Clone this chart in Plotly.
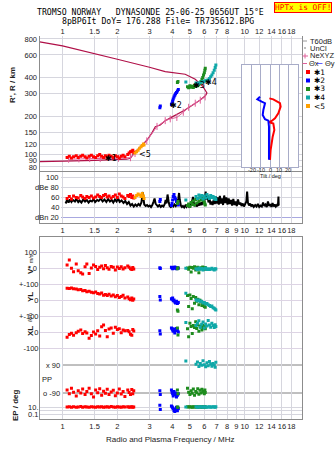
import numpy as np
import plotly.graph_objects as go

W, H = 335, 451
def px(x): return x / W
def py(y): return 1 - y / H

# ---------------- data ----------------
freq_ticks_top = [1, 1.5, 2, 3, 4, 5, 6, 7, 8, 10, 12, 14, 16, 18]
freq_ticks_bottom = [1, 1.5, 2, 3, 4, 5, 6, 7, 8, 9, 10, 12, 14, 16, 18]
height_ticks = [80, 90, 100, 120, 150, 200, 300, 400, 600, 800]
db_ticks = [100, 80, 60, 40, 20]
db_labels = ["100", "dBe 80", "60", "40", "dBn 20"]
tilt_ticks = [-20, -10, 0, 10, 20]

# real-height profile: bottomside up to the peak, then topside back down in frequency
prof_f = [0.75, 1.0, 1.02, 1.5, 2.0, 2.25, 2.36, 2.46, 2.67, 2.91, 3.09, 3.23, 3.44, 3.66,
          4.0, 4.7, 5.7, 6.1, 6.2, 5.9, 5.35, 4.71, 3.66, 3.0, 2.0, 1.0, 0.75]
prof_h = [88, 88, 89, 90, 91, 92, 93.5, 102, 115, 130, 147, 165, 170, 184,
          197, 223, 267, 290, 303, 339, 387, 424, 445, 481, 555, 705, 760]

nexyz_f = [1.08, 1.23, 1.41, 1.61, 2.03, 2.36, 2.5, 2.9, 3.3, 3.66, 3.9, 4.24, 4.6, 4.92, 5.35, 5.7, 6.06]
nexyz_h = [92, 92.5, 93, 93, 93.5, 94.5, 102, 128, 166, 184, 190, 195, 214, 234, 252, 266, 282]

red_f = [1.06, 1.09, 1.12, 1.15, 1.19, 1.22, 1.26, 1.29, 1.33, 1.36, 1.40, 1.44, 1.48, 1.52, 1.56,
         1.60, 1.64, 1.68, 1.72, 1.76, 1.80, 1.85, 1.90, 1.95, 2.00, 2.05, 2.10, 2.15, 2.20, 2.28,
         2.32, 2.36, 2.40, 2.43, 2.46]
red_h = [95, 97, 94, 96, 98, 95, 97, 99, 96, 94, 97, 99, 96, 95, 98, 100, 97, 95, 98, 96, 99, 97,
         95, 98, 96, 94, 97, 99, 96, 100, 103, 105, 106, 108, 104]
red_db = [58, 62, 57, 63, 60, 59, 64, 61, 58, 62, 60, 63, 59, 61, 65, 62, 60, 64, 66, 61, 63, 59,
          62, 65, 60, 67, 63, 61, 58, 64, 62, 66, 60, 63, 59]
red_vs = [19, 50, -2, -23, 25, -17, -29, -38, 8, 25, -35, 0, 19, 10, -10, 5, 12, -5, 15, 2, -8, 10,
          4, -12, 6, -3, 8, -6, 2, 12, 5, -4, -10, 3, -6]
red_yl = [74, 72, 75, 70, 68, 64, 66, 58, 60, 52, 55, 48, 45, 50, 40, 38, 44, 30, 35, 28, 36, 25,
          32, 20, 28, 15, 22, 30, 12, 18, 8, 2, 12, -2, 6]
red_xl = [-33, -15, -8, -20, -4, 5, 12, -10, 2, -6, -39, -22, 0, -12, 8, -25, 33, 44, 10, -30, 19,
          25, -8, 30, 15, 20, -5, 12, 8, 10, 2, -14, -20, 15, 6]
red_pp = [-70, -95, -60, -85, -110, -75, -90, -65, -100, -80, -60, -95, -115, -70, -88, -62, -105,
          -78, -92, -66, -100, -84, -72, -108, -90, -64, -96, -80, -112, -70, -86, -100, -68, -94, -76]
red_ep = [10, 12, 9, 11, 8, 10, 13, 9, 11, 10, 8, 12, 10, 9, 11, 10, 12, 8, 10, 11, 9, 13, 10, 8,
          11, 10, 9, 12, 10, 11, 8, 10, 12, 9, 10]

orange_f = [2.50, 2.55, 2.60, 2.65, 2.70, 2.74, 2.78, 2.80]
orange_h = [103, 105, 108, 112, 115, 118, 121, 119]
orange_db = [60, 64, 67, 65, 62, 68, 63, 58]

blue_f = [3.42, 3.44, 3.96, 3.99, 4.02, 4.05, 4.09, 4.13, 4.17, 4.22, 4.27, 4.32]
blue_h = [232, 240, 246, 252, 262, 272, 282, 290, 298, 306, 314, 322]
blue_db = [52, 56, 44, 48, 55, 62, 66, 60, 57, 52, 48, 45]
blue_vs = [2, -3, 5, 0, -4, 3, -2, 6, 1, -5, 2, -1]
blue_yl = [22, 0, 8, 4, 12, -5, 0, -12, -18, -8, -22, -15]
blue_xl = [8, -12, 25, 20, 12, 5, 18, -6, 10, 22, 15, 0]
blue_pp = [-75, -100, -70, -85, -95, -110, -80, -100, -90, -115, -105, -95]
blue_ep = [30, 2, 20, 12, 6, 3, 1, 0.5, 2, 8, 0.8, 4]

green_f = [4.27, 4.30, 4.85, 4.92, 5.00, 5.08, 5.15, 5.22, 5.30, 5.38, 5.45, 5.52, 5.60, 5.68,
           5.75, 5.82, 5.88, 5.94, 6.00, 6.04, 6.07]
green_h = [365, 372, 338, 332, 345, 336, 342, 334, 346, 340, 350, 344, 352, 360, 372, 385, 400,
           418, 436, 455, 472]
green_db = [48, 52, 44, 47, 42, 50, 46, 53, 45, 56, 49, 58, 52, 60, 55, 62, 57, 54, 50, 47, 45]
green_vs = [-5, 2, 0, -8, 5, -25, 3, -2, 8, -12, 0, 4, -30, -6, 2, -3, 6, -4, 0, -8, 3]
green_yl = [-62, -70, 28, -40, 32, 10, -55, 22, -20, 15, -8, 5, -30, -2, -12, -35, -18, -28, -40, -22, -45]
green_xl = [25, -19, 20, -30, 55, 35, -10, 40, 28, 64, 22, 45, 5, 38, 30, 12, 42, 28, 35, 25, 20]
green_pp = [-70, -95, -60, -85, -100, -75, -92, -65, -105, -80, -88, -62, -98, -72, -90, -66, -84,
            -78, -95, -70, -86]
green_ep = [10, 9, 11, 10, 12, 10, 9, 11, 10, 10, 12, 9, 10, 11, 10, 9, 10, 12, 10, 11, 10]

cyan_f = [4.75, 5.40, 5.50, 5.60, 5.70, 5.80, 5.90, 6.00, 6.10, 6.20, 6.30, 6.40, 6.50, 6.60,
          6.70, 6.80, 6.88, 6.94]
cyan_h = [368, 362, 358, 362, 365, 368, 371, 374, 377, 380, 383, 392, 405, 419, 436, 455, 478, 500]
cyan_db = [55, 62, 58, 65, 60, 64, 57, 63, 59, 66, 61, 58, 64, 60, 62, 57, 60, 56]
cyan_vs = [-2, -5, -10, 0, -8, -3, -12, -5, 0, -9, -4, -10, -6, -1, -8, -12, -4, -7]
cyan_yl = [42, 2, -5, 0, -10, -8, -18, -15, -25, -22, -30, -35, -40, -38, -48, -52, -58, -62]
cyan_xl = [60, 40, 55, 70, 30, 48, 62, 25, 50, 38, 72, 44, 30, 55, 40, 28, 45, 35]
cyan_pp = [116, 95, 110, 80, 100, 88, 118, 92, 78, 105, 85, 112, 96, 82, 100, 90, 76, 108]
cyan_ep = [10, 11, 9, 10, 12, 10, 9, 11, 10, 8, 10, 11, 9, 10, 12, 10, 9, 11]

noise_f = [1.04, 1.06, 1.08, 1.10, 1.12, 1.14, 1.17, 1.19, 1.22, 1.24, 1.27, 1.30, 1.33, 1.36,
           1.39, 1.42, 1.45, 1.48, 1.51, 1.55, 1.58, 1.62, 1.66, 1.70, 1.74, 1.78, 1.82, 1.86,
           1.90, 1.94, 1.98, 2.02, 2.06, 2.11, 2.16, 2.21, 2.26, 2.31, 2.36, 2.41, 2.46, 2.51,
           2.56, 2.61, 2.66, 2.71, 2.74, 2.76, 2.78, 2.81, 2.86, 2.91, 2.96, 3.01, 3.06, 3.11,
           3.16, 3.20, 3.24, 3.29, 3.34, 3.40, 3.46, 3.52, 3.58, 3.64, 3.68, 3.72, 3.77, 3.82,
           3.87, 3.93, 3.99, 4.05, 4.11, 4.18, 4.25, 4.32, 4.36, 4.40, 4.46, 4.52, 4.58, 4.65,
           4.72, 4.79, 4.86, 4.93, 5.00, 5.07, 5.14, 5.20, 5.26, 5.33, 5.40, 5.48, 5.56, 5.64,
           5.72, 5.80, 5.88, 5.96, 6.04, 6.10, 6.16, 6.24, 6.32, 6.40, 6.48, 6.57, 6.66, 6.75,
           6.84, 6.93, 7.02, 7.11, 7.20, 7.30, 7.40, 7.50, 7.60, 7.71, 7.82, 7.93, 8.04, 8.16,
           8.28, 8.40, 8.52, 8.65, 8.78, 8.91, 9.04, 9.18, 9.32, 9.46, 9.60, 9.75, 9.90, 10.05,
           10.2, 10.3, 10.4, 10.55, 10.7, 10.85, 11.0, 11.2, 11.4, 11.6, 11.8, 12.0, 12.2, 12.4,
           12.6, 12.8, 13.0, 13.2, 13.4, 13.6, 13.8, 14.0, 14.2, 14.4, 14.6, 14.8, 15.0, 15.2,
           15.3, 15.35]
noise_db = [48, 55, 50, 56, 51, 55, 52, 57, 51, 54, 50, 56, 52, 55, 50, 54, 52, 57, 51, 55, 53,
            58, 52, 56, 51, 57, 52, 55, 50, 56, 52, 58, 51, 54, 49, 53, 47, 51, 44, 47, 42, 46,
            43, 47, 44, 50, 62, 71, 58, 46, 43, 45, 42, 44, 41, 45, 52, 58, 48, 44, 42, 45, 41,
            44, 42, 47, 55, 48, 66, 52, 43, 41, 44, 42, 46, 43, 47, 58, 69, 55, 44, 41, 43, 40,
            44, 41, 45, 42, 47, 43, 50, 61, 48, 43, 46, 42, 48, 44, 50, 45, 52, 47, 58, 72, 56,
            66, 50, 60, 46, 52, 45, 55, 47, 62, 48, 60, 46, 63, 48, 58, 45, 64, 49, 60, 46, 58,
            47, 55, 44, 57, 45, 52, 43, 56, 46, 50, 43, 48, 42, 46, 52, 72, 50, 44, 48, 42, 46,
            41, 45, 42, 47, 41, 44, 42, 50, 43, 46, 41, 52, 43, 47, 41, 49, 42, 46, 42, 45, 43,
            62, 44]

tiltx_h = [275, 270, 252, 237, 210, 192, 183, 179, 175, 156, 138, 122, 109, 91]
tiltx = [-0.7, 3.6, 10.8, 11.5, 9.0, 5.4, 1.8, -0.7, 3.6, 4.7, 2.9, 1.8, 0.7, 0]
tilty_h = [283, 270, 259, 252, 223, 204, 189, 184, 165, 130, 109, 91]
tilty = [-10.8, -13.7, -9.0, -5.4, -7.2, -7.9, -5.4, -1.8, -1.1, -1.1, -0.7, -1.1]

echo_labels = [("\u27311", 1.85, 94), ("\u27312", 4.18, 242), ("\u27313", 5.6, 347),
               ("\u27314", 6.5, 366), ("<5", 2.85, 100)]

# ---------------- styles ----------------
RED, BLUE, GREEN, CYAN, ORANGE = "#ff0000", "#0000ff", "#1e8c1e", "#10a8a8", "#ffa000"
CRIMSON, PINK = "#b01048", "#e0609a"
GRID = "#d6d6de"
GRID2 = "#ddd4e4"
FRAME = "#8c8c8c"
SANS = "Liberation Sans, Arial, sans-serif"
TF = dict(family=SANS, size=7.5, color="#222")

XR = [np.log10(0.748), np.log10(20.6)]
XD = [px(39.5), px(302)]

fig = go.Figure()

def mk(x, y, color, xa, ya, size=3):
    fig.add_trace(go.Scatter(x=x, y=y, mode="markers", xaxis=xa, yaxis=ya, showlegend=False,
                             marker=dict(symbol="square", size=size, color=color, line=dict(width=0))))

# top panel
fig.add_trace(go.Scatter(x=prof_f, y=prof_h, mode="lines", line=dict(color=CRIMSON, width=1.2),
                         xaxis="x", yaxis="y", showlegend=False))
fig.add_trace(go.Scatter(x=nexyz_f, y=nexyz_h, mode="lines+markers", line=dict(color=PINK, width=1),
                         marker=dict(symbol="line-ns-open", size=5, color=PINK, line=dict(width=1, color=PINK)),
                         xaxis="x", yaxis="y", showlegend=False))
for f, h, c in [(red_f, red_h, RED), (orange_f, orange_h, ORANGE), (blue_f, blue_h, BLUE),
                (green_f, green_h, GREEN), (cyan_f, cyan_h, CYAN)]:
    mk(f, h, c, "x", "y")

# dB panel
fig.add_trace(go.Scatter(x=noise_f, y=noise_db, mode="lines", line=dict(color="#000", width=2),
                         xaxis="x2", yaxis="y2", showlegend=False))
for f, d, c in [(red_f, red_db, RED), (orange_f, orange_db, ORANGE), (blue_f, blue_db, BLUE),
                (green_f, green_db, GREEN), (cyan_f, cyan_db, CYAN)]:
    mk(f, d, c, "x2", "y2")

# lower panel
for f, v, yl, xl, pp, ep, c in [
        (red_f, red_vs, red_yl, red_xl, red_pp, red_ep, RED),
        (blue_f, blue_vs, blue_yl, blue_xl, blue_pp, blue_ep, BLUE),
        (green_f, green_vs, green_yl, green_xl, green_pp, green_ep, GREEN),
        (cyan_f, cyan_vs, cyan_yl, cyan_xl, cyan_pp, cyan_ep, CYAN)]:
    mk(f, v, c, "x3", "y3")
    mk(f, yl, c, "x3", "y4")
    mk(f, xl, c, "x3", "y5")
    mk(f, pp, c, "x3", "y6")
    mk(f, ep, c, "x3", "y7")

# inset tilt
fig.add_trace(go.Scatter(x=tiltx, y=tiltx_h, mode="lines", line=dict(color=RED, width=2),
                         xaxis="x4", yaxis="y8", showlegend=False))
fig.add_trace(go.Scatter(x=tilty, y=tilty_h, mode="lines", line=dict(color=BLUE, width=2),
                         xaxis="x4", yaxis="y8", showlegend=False))

ax_common = dict(zeroline=False, ticks="", tickfont=TF)
xcommon = dict(zeroline=False, ticks="", tickfont=TF, tickangle=0)
fig.update_layout(
    width=W, height=H, autosize=False, margin=dict(l=0, r=0, t=0, b=0),
    paper_bgcolor="white", plot_bgcolor="white", showlegend=False,
    xaxis=dict(type="log", range=XR, domain=XD, anchor="y", side="top",
               tickvals=freq_ticks_top, ticktext=[str(v) for v in freq_ticks_top],
               showgrid=True, gridcolor=GRID, showline=False, **xcommon),
    yaxis=dict(type="log", range=[1.864, 2.926], domain=[py(172), py(36)], anchor="x",
               tickvals=height_ticks, ticktext=[str(v) for v in height_ticks],
               gridcolor=GRID, showline=True, mirror=True, linecolor=FRAME, **ax_common),
    xaxis2=dict(type="log", range=XR, domain=XD, anchor="y2",
                tickvals=freq_ticks_bottom, ticktext=[str(v) for v in freq_ticks_bottom],
                gridcolor=GRID, showline=True, mirror=True, linecolor=FRAME, **xcommon),
    yaxis2=dict(range=[9, 111], domain=[py(223), py(172)], anchor="x2", showticklabels=False,
                showgrid=False, showline=True, mirror=True, linecolor=FRAME, zeroline=False),
    xaxis3=dict(type="log", range=XR, domain=XD, anchor="y3",
                tickvals=freq_ticks_bottom, ticktext=[str(v) for v in freq_ticks_bottom],
                gridcolor=GRID, showline=True, mirror=True, linecolor=FRAME, **xcommon),
    yaxis3=dict(range=[-943.75, 193.75], domain=[py(419), py(237)], anchor="x3",
                tickvals=[100, 0], ticktext=["100", "0"], gridcolor=GRID2,
                showline=True, mirror=True, linecolor=FRAME, **ax_common),
    yaxis4=dict(range=[-743.75, 393.75], overlaying="y3", anchor="x3", side="left",
                tickvals=[100, 0], ticktext=["+-100", "0"], gridcolor=GRID2, **ax_common),
    yaxis5=dict(range=[-543.75, 593.75], overlaying="y3", anchor="x3", side="left",
                tickvals=[100, 0, -100], ticktext=["+-100", "0", "-100"], gridcolor=GRID2, **ax_common),
    yaxis6=dict(range=[-257.1, 912.9], overlaying="y3", anchor="x3", side="left",
                showticklabels=False, showgrid=False, zeroline=False),
    yaxis7=dict(type="log", range=[-2.4286, 49.571], overlaying="y3", anchor="x3", side="left",
                tickvals=[10, 1, 0.1], ticktext=["10.", "", "0.1"], gridcolor=GRID, **ax_common),
    xaxis4=dict(range=[-30.3, 30.3], domain=[px(242), px(298)], anchor="y8",
                tickvals=tilt_ticks, showticklabels=False,
                gridcolor="#a8acc8", showline=True, mirror=True, linecolor="#a8acc8",
                zeroline=False, ticks=""),
    yaxis8=dict(type="log", range=[1.903, 2.700], domain=[py(167), py(65)], anchor="x4",
                showticklabels=False, showgrid=False, showline=True, mirror=True,
                linecolor="#a8acc8", zeroline=False),
)

shapes = []
# white background of the tilt inset (covers the main grid)
shapes.append(dict(type="rect", xref="x4 domain", yref="y8 domain", x0=0, x1=1, y0=0, y1=1,
                   fillcolor="white", line=dict(width=0), layer="below"))
# dB panel grid lines (start after the inside labels)
for v in db_ticks:
    shapes.append(dict(type="line", xref="paper", yref="y2", x0=px(61), x1=px(302), y0=v, y1=v,
                       line=dict(color="#a8a8e0" if v == 20 else GRID, width=1), layer="below"))
# PP lines
for v in [90, -90]:
    shapes.append(dict(type="line", xref="paper", yref="y6", x0=px(63), x1=px(302), y0=v, y1=v,
                       line=dict(color="#808080", width=1), layer="below"))

ann = []
def A(text, x, y, xref="paper", yref="paper", size=7.5, xanchor="center", color="#222",
      family=SANS, angle=0, **kw):
    ann.append(dict(text=text, x=x, y=y, xref=xref, yref=yref, showarrow=False, xanchor=xanchor,
                    yanchor="middle", textangle=angle, font=dict(family=family, size=size, color=color), **kw))

for v, t in zip(db_ticks, db_labels):
    A(t, px(60.5), v, yref="y2", xanchor="right")
A("x\u00a090", px(62), 90, yref="y6", xanchor="right")
A("o\u00a0-90", px(62), -90, yref="y6", xanchor="right")
A("PP", px(46.5), py(379))

# inset tick labels and title
for v in tilt_ticks:
    A(str(v), v, py(170), xref="x4", size=5.5)
A("Tilt / deg", px(270), py(176), size=5.5)

# axis titles
A("<b>R', R / km</b>", px(12), py(85), angle=-90, size=8)
A("<b>V*</b> <span style='font-size:5.5px'>m/s</span>", px(30), py(264), angle=-90, size=8)
A("<b>YL</b>", px(30), py(297), angle=-90, size=8)
A("<span style='font-size:5.5px'>/km</span>", px(30), py(318), angle=-90, size=8)
A("<b>XL</b>", px(30), py(331), angle=-90, size=8)
A("<b>EP / deg</b>", px(15), py(405), angle=-90, size=8)
A("Radio and Plasma Frequency / MHz", px(170), py(439), size=8)

# header
MONO = "DejaVu Sans Mono, Liberation Mono, monospace"
A("TROMSO NORWAY\u00a0\u00a0\u00a0DYNASONDE 25-06-25 0656UT 15\u00b0E", px(150), py(12.5), family=MONO, size=8.2, color="#000")
A("8pBP6It DoY= 176.288 File= TR735612.BPG", px(157.5), py(21), family=MONO, size=8.2, color="#000")
A("HPTx is OFF!", px(302.5), py(7.3), family=MONO, size=7.8, color="#ff0000",
  bgcolor="#ffff00", bordercolor="#ff0000", borderwidth=1, borderpad=0)

# echo labels
for t, f, h in echo_labels:
    A(t, np.log10(f), np.log10(h), xref="x", yref="y", size=8, color="#000",
      family="DejaVu Sans, sans-serif")

# legend
shapes.append(dict(type="line", xref="paper", yref="paper", x0=px(302.5), x1=px(307), y0=py(41), y1=py(41),
                   line=dict(color="#999", width=1)))
A("T60dB", px(308), py(41), xanchor="left", size=7.5)
shapes.append(dict(type="rect", xref="paper", yref="paper", x0=px(304.5), x1=px(305.5), y0=py(48.5), y1=py(47.5),
                   line=dict(width=0), fillcolor="#000"))
A("UnCl", px(308), py(48.5), xanchor="left", size=7.5)
shapes.append(dict(type="line", xref="paper", yref="paper", x0=px(302.5), x1=px(308), y0=py(56), y1=py(56),
                   line=dict(color=PINK, width=1)))
shapes.append(dict(type="line", xref="paper", yref="paper", x0=px(305), x1=px(305), y0=py(53.5), y1=py(58.5),
                   line=dict(color=PINK, width=1)))
A("NeXYZ", px(308), py(56), xanchor="left", size=7.5)
shapes.append(dict(type="line", xref="paper", yref="paper", x0=px(302.5), x1=px(307), y0=py(63.5), y1=py(63.5),
                   line=dict(color=PINK, width=1)))
A("\u0398x", px(307), py(63.5), xanchor="left", size=7.5)
shapes.append(dict(type="line", xref="paper", yref="paper", x0=px(317), x1=px(322.5), y0=py(63.5), y1=py(63.5),
                   line=dict(color="#6060ff", width=1)))
A("\u0398y", px(322.5), py(63.5), xanchor="left", size=7.5)
for i, (c, t) in enumerate([(RED, "\u27311"), (BLUE, "\u27312"), (GREEN, "\u27313"), (CYAN, "\u27314"), (ORANGE, "<5")]):
    yy = [72, 80.5, 89, 97.5, 106][i]
    shapes.append(dict(type="rect", xref="paper", yref="paper", x0=px(306), x1=px(310), y0=py(yy + 2), y1=py(yy - 2),
                       line=dict(width=0), fillcolor=c))
    A(t, px(312), py(yy), xanchor="left", size=7.5, color="#000", family="DejaVu Sans, sans-serif")

fig.update_layout(shapes=shapes, annotations=ann)
fig.write_html("out.html")
